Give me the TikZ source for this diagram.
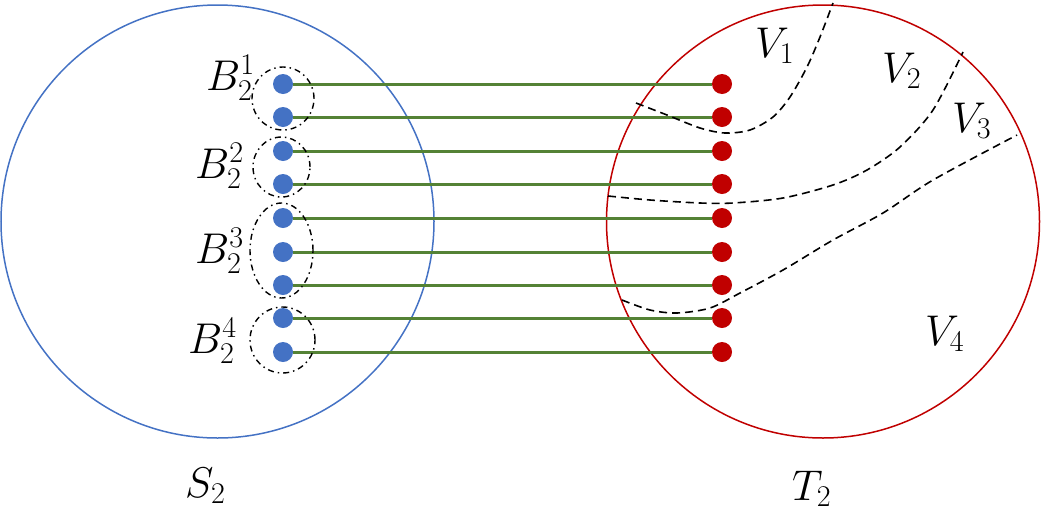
\RequirePackage{fix-cm}
\documentclass[tikz,border=0pt]{standalone}
\usetikzlibrary{shapes.geometric}
\definecolor{cblue}{HTML}{4472C4}
\definecolor{cred}{HTML}{C00000}
\definecolor{cgreen}{HTML}{548235}
\tikzset{
  bigcirc/.style={circle, draw, line width=1.5pt, inner sep=0pt, outer sep=0pt, minimum size=433pt},
  bdot/.style={circle, fill=cblue, inner sep=0pt, outer sep=0pt, minimum size=20pt},
  rdot/.style={circle, fill=cred, inner sep=0pt, outer sep=0pt, minimum size=20pt},
  link/.style={cgreen, line width=3pt},
  grp/.style={ellipse, draw, line width=1.4pt, inner sep=0pt, dash pattern=on 6pt off 4pt on 1.5pt off 4pt},
  part/.style={line width=1.6pt, dash pattern=on 8pt off 5pt},
  lbl/.style={inner sep=0pt, anchor=base west, font=\fontsize{43}{50}\selectfont}
}
\begin{document}
\begin{tikzpicture}[x=1pt,y=-1pt]
\useasboundingbox (0,0) rectangle (1041,520);
\node[bigcirc, draw=cblue] (S) at (217.5,221.5) {};
\node[bigcirc, draw=cred] (T) at (823,221.5) {};
\foreach \i/\y in {1/84,2/117,3/151,4/184,5/218,6/252,7/285,8/318,9/352}{
  \node[bdot] (s\i) at (283,\y) {};
  \node[rdot] (t\i) at (722,\y) {};
  \draw[link] (s\i) -- (t\i);
}
\node[grp, minimum width=62pt, minimum height=63pt] (g1) at (283,98.5) {};
\node[grp, minimum width=57pt, minimum height=60pt] (g2) at (281.5,167) {};
\node[grp, minimum width=63pt, minimum height=95pt] (g3) at (281.5,250.5) {};
\node[grp, minimum width=65pt, minimum height=66pt] (g4) at (282.5,340) {};
\node[lbl] (b1) at (206,90) {$B_2^1$};
\node[lbl] (b2) at (195,178) {$B_2^2$};
\node[lbl] (b3) at (195,263) {$B_2^3$};
\node[lbl] (b4) at (188,353) {$B_2^4$};
\node[lbl] (ls) at (185,497) {$S_2$};
\node[lbl] (lt) at (792,500) {$T_2$};
\node[lbl] (v1) at (755,57) {$V_1$};
\node[lbl] (v2) at (882,82) {$V_2$};
\node[lbl] (v3) at (952,132) {$V_3$};
\node[lbl] (v4) at (925,345) {$V_4$};
\draw[part] plot[smooth] coordinates {(636,103) (667,115) (700,128) (725,133) (750,130) (773,117) (790,97) (807,67) (820,37) (833,3)};
\draw[part] plot[smooth] coordinates {(608,196) (650,200) (700,203) (733,203) (783,198) (833,185) (867,170) (900,147) (933,110) (963,52)};
\draw[part] plot[smooth] coordinates {(622,300) (650,310) (677,313) (710,308) (740,293) (783,270) (833,240) (883,213) (933,180) (1017,135)};
\end{tikzpicture}
\end{document}
